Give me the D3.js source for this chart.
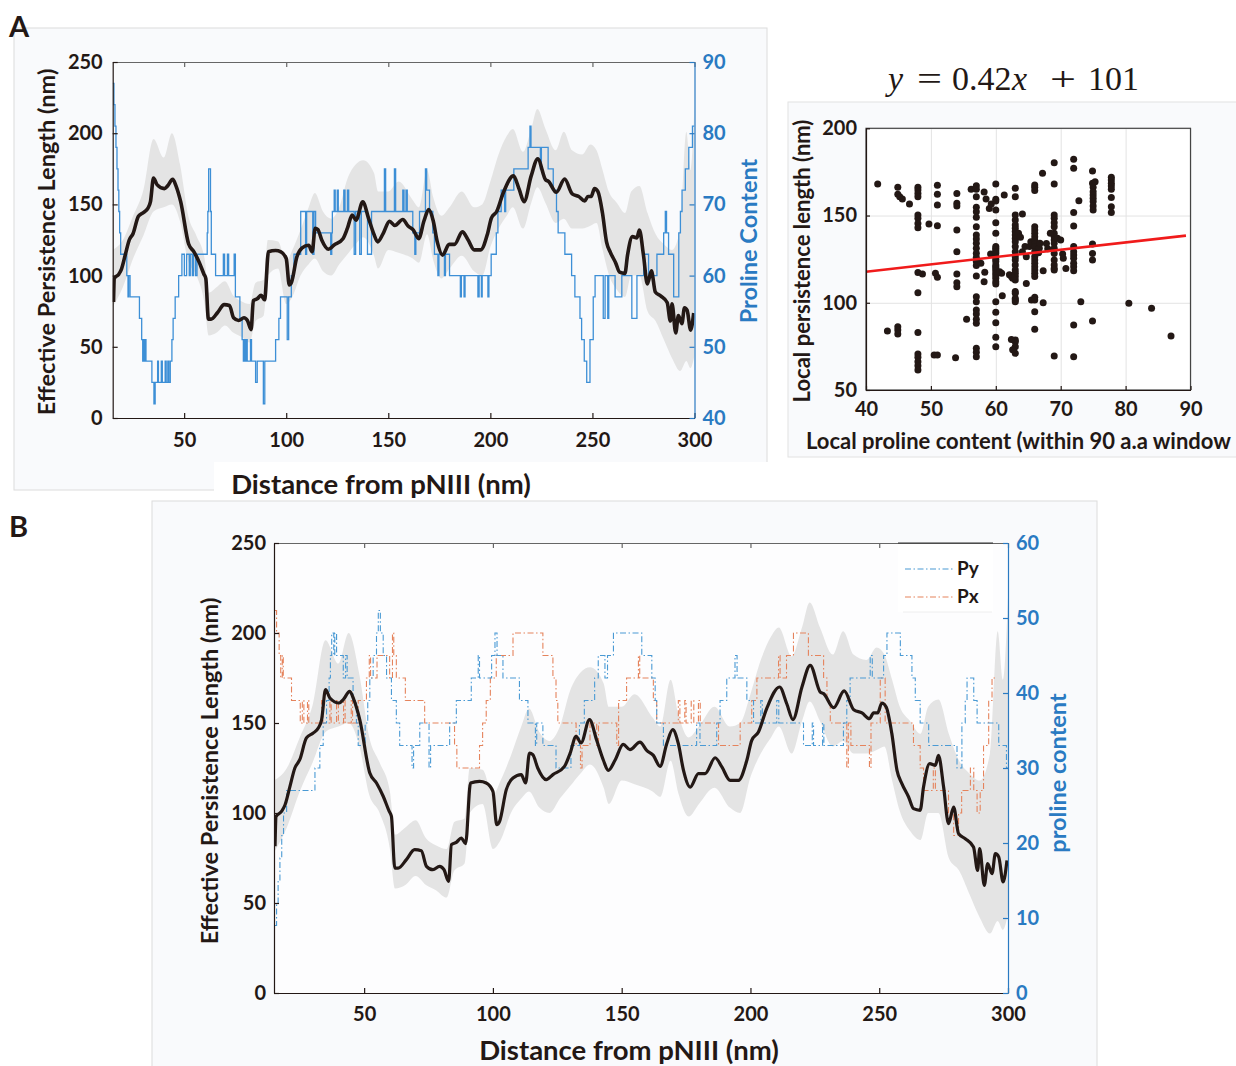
<!DOCTYPE html>
<html><head><meta charset="utf-8">
<script src="https://cdn.jsdelivr.net/npm/d3@7"></script>
<style>
body{margin:0;background:#fff;}
text{font-family:Lato,"Open Sans",sans-serif;font-weight:700;}
</style></head>
<body>
<script>
// ---------------- DATA ----------------
const distTicks = [50,100,150,200,250,300];
const persTicks = [0,50,100,150,200,250];
const prolineTicksA = [40,50,60,70,80,90];
const prolineTicksB = [0,10,20,30,40,50,60];
const scatterXTicks = [40,50,60,70,80,90];
const scatterYTicks = [50,100,150,200];
const fitSlope = 0.42, fitIntercept = 101;

// effective persistence length (black curve)
const persX = [15.4,15.8,18,19.3,21.2,23.1,25,27.6,30.2,32.2,33.5,35,36.7,40.3,41.9,44.4,46,48.3,52.2,54.8,57.4,59.7,60.6,61.9,63.2,66.4,69.6,72.2,74.2,76.7,79.3,81,82.8,83.9,85.8,87.7,89.4,91.3,94.8,97.4,100,101.5,102.6,105.2,107.8,111,112.7,114.2,115.5,117.4,120.7,123.3,127.8,130,132.3,134.2,137.5,140.3,142.9,144.8,147.4,150.6,153.2,157.1,159.7,162.3,164.9,167.5,169.8,172,174,176.6,179.8,182.4,186.3,188.9,192.1,195.3,198.6,200.5,203.1,206.3,211.3,214.1,216.5,220,223.2,227.1,228.4,232.3,236.4,240.1,243.3,246.2,247.8,249.4,251,252.7,254.9,256.9,258.8,261.4,263.3,265.9,267.2,269.6,271.8,273,275,276.9,278.9,280.8,283.4,286.6,288.2,289,290.8,292.1,293.8,295.1,296.4,298.1,299.6];
const persY = [81.5,98,101,104.6,114.8,125,129.6,141.7,144.4,147.2,151.9,168.5,163.9,161.1,163,167.6,163,151.9,122.2,116.7,109.3,101,98.1,69.4,69.4,74.1,79.6,79,70.4,68.5,70.4,68.5,62,82.4,83.7,86.1,83,116.7,117.6,116.7,112,93.5,95.4,113,119.4,121.3,116.7,133.3,132.4,125,118.5,121.3,125.9,133.3,142.6,138.9,151.9,140.4,129.3,123.7,129.3,138.1,135.2,139.4,134.8,132,125.9,138.5,146.3,138.5,123.7,114.4,121.9,121.9,130.7,125.6,118.1,118.1,129.3,140.4,145,158,170,160.7,151.9,170,182,167.2,166.3,158.5,167.8,157.4,155.6,152.4,155.6,155.6,161.1,158.9,144.1,123.7,116.3,108.9,102.4,101.5,114.4,127.4,126.5,132,114.4,94.1,103.3,88.5,85.7,81.1,68.1,80.2,59.8,71.9,66.3,77.4,75.6,61.7,73.7];

// uncertainty band
const bandX  = [15,20,25,30,35,40,44,48,52,56,60,62,66,70,74,78,82,85,89,91,96,100,103,107,111,114,118,122,126,130,134,137.7,143,145,150,155,162,165,169,172,176,180,186,192,196,200,204,208,211,216,220,223,227,232,236,240,245,249,252,255,258,262,266,269,273,277,281,285,289,293,296,298,300];
const bandLo = [78,92,112,128,145,148,150,138,110,100,80,58,60,65,60,57,53,68,72,100,105,80,85,100,108,112,103,100,108,115,122,127,114,105,118,116,112,109,129,111,98,105,114,103,100,120,133,142,148,133,151,162,151,137,140,133,133,135,137,118,101,90,85,100,100,75,68,55,42,33,40,35,44];
const bandHi = [118,125,142,160,196,183,200,178,142,128,112,88,92,96,86,82,80,95,97,125,124,110,118,132,148,158,145,140,148,168,178,181,172,159,159,166,153,148,174,155,142,148,159,148,150,166,185,198,203,187,203,217,203,188,201,188,185,192,188,174,159,151,144,159,163,144,129,122,118,133,201,174,220];

// panel A proline content (step, value from x onward)
const prolineA = [[15,87],[15.6,84],[16.1,81],[16.6,78],[17.1,75],[17.6,72],[18,69],[18.4,66],[18.9,63],[21.9,60],[22.5,57],[22.8,60],[23.5,57],[28.1,54],[29.2,51],[29.7,48],[30.1,51],[30.5,48],[30.9,51],[31.3,48],[34.2,45],[35.2,42],[35.8,45],[37,48],[37.4,45],[38.8,48],[39.3,45],[40.7,48],[41.2,45],[42,48],[42.5,45],[43.2,48],[44,51],[44.6,54],[45.6,57],[47.3,60],[48.9,63],[50.1,60],[51.2,63],[52.5,60],[53,63],[54,60],[54.6,63],[55.6,60],[56.3,63],[61.3,66],[61.6,69],[62,75],[62.9,69],[63.3,63],[65.4,60],[69.2,63],[69.8,60],[71.2,63],[71.8,60],[74.5,63],[75.1,57],[77.3,54],[78.4,51],[79,48],[79.4,51],[80,48],[80.4,51],[80.9,48],[82.5,51],[83,48],[85,45],[85.8,48],[88.8,42],[89.5,48],[94.8,51],[96.4,54],[97.2,57],[100.5,51],[101.2,57],[102.5,60],[103.8,63],[107.1,69],[109.5,63],[110,69],[113,63],[113.6,69],[114.4,66],[121.8,63],[122.3,66],[122.6,69],[123.5,72],[124,69],[125,72],[125.5,69],[128.2,72],[128.8,69],[130,72],[130.6,69],[133.3,63],[134,69],[136,63],[136.8,69],[139.8,63],[141.8,69],[148.1,75],[148.7,69],[153,75],[153.6,69],[157.1,72],[157.7,69],[158.7,72],[159.3,69],[162,66],[163,63],[163.5,66],[165.3,69],[168.2,75],[168.8,72],[170.2,69],[171.8,66],[172.6,63],[174.3,60],[174.8,63],[177.5,60],[178,63],[180,60],[185.3,57],[185.8,60],[187.1,57],[187.6,60],[193.9,57],[194.5,60],[195.6,57],[196,60],[198.8,57],[199.3,60],[200.4,63],[202.9,66],[203.7,69],[205.3,72],[207,69],[207.5,72],[211.5,75],[218.5,78],[219.4,81],[219.9,78],[224.5,75],[225,78],[228.3,75],[230.8,72],[232.4,69],[233.2,66],[236.5,63],[239.8,60],[241.4,57],[243.9,54],[244.7,51],[246,48],[247.2,45],[248.8,51],[250.4,57],[251.3,60],[255.3,54],[256.2,60],[257.5,54],[258,60],[261.1,57],[264.4,60],[269.3,54],[271.8,60],[275.1,63],[277.5,60],[281.6,63],[284.9,66],[285.7,69],[286.3,66],[287.3,63],[289.8,57],[292.3,66],[293.1,69],[293.9,72],[295.5,75],[297.2,78],[299,81],[300,81]];

// panel B Py / Px proline content (steps)
const prolinePy = [[15.4,9],[16,12],[16.6,15],[17.3,18],[18,21],[18.7,24],[19.9,27],[30.9,30],[32.8,33],[34.1,36],[35.4,39],[36.4,42],[36.9,45],[37.4,48],[38.2,45],[38.6,48],[39.3,45],[41.9,42],[42.8,45],[43.4,42],[45.7,39],[47,36],[47.7,33],[50.4,36],[51.4,39],[52.2,42],[53.5,45],[54.8,48],[55.5,51],[56.3,48],[57.4,45],[58.7,42],[60.6,39],[62.5,36],[63.8,33],[68.6,30],[69.2,33],[71.6,36],[75.2,30],[75.8,33],[83.2,36],[85.8,39],[91.6,42],[94.3,45],[94.8,42],[99.5,45],[100.8,48],[101.6,45],[103.9,42],[110.3,39],[113.6,36],[116.5,33],[117,36],[119.4,33],[124.5,30],[130.3,33],[133.6,36],[135.5,39],[139.5,42],[140.9,45],[143.5,42],[144.5,45],[146.8,48],[157.8,45],[161.7,42],[163,39],[163.6,36],[166.2,33],[179.1,36],[180.4,33],[186.9,36],[188.2,39],[190.8,42],[194,45],[194.8,42],[198.6,39],[201.2,36],[204,39],[204.6,36],[210.2,39],[211,36],[220.6,33],[224,36],[224.5,33],[228,36],[228.5,33],[236.1,36],[237.4,39],[238.7,42],[246.5,45],[247.3,42],[251.7,45],[253,48],[258.2,45],[262.7,42],[264,39],[265.9,36],[269.2,33],[280.2,30],[282.1,36],[283.4,39],[284.1,42],[286.7,39],[288,36],[296.4,33],[299.4,30],[300,30]];
const prolinePx = [[15.4,51],[16,48],[17,45],[17.6,42],[18.2,45],[18.6,42],[21.8,39],[25.2,36],[26,39],[26.6,36],[28,39],[28.5,36],[33.5,39],[34,36],[36.7,39],[37.2,36],[39.3,39],[40,36],[42,39],[42.6,36],[45,39],[45.5,36],[47.7,39],[50.9,42],[52,45],[52.5,42],[55,45],[59.9,42],[61,48],[61.5,45],[62.5,42],[66,39],[73.5,36],[85.1,33],[86,30],[94.8,33],[96,36],[97.4,39],[99,42],[101.3,45],[107.8,48],[119.4,45],[123.3,42],[124.5,39],[125.2,36],[132.3,33],[134,30],[134.6,33],[137.7,36],[140.3,33],[141,36],[148.1,33],[148.8,39],[151.9,42],[156.5,45],[157,42],[162.3,39],[163.6,36],[172,39],[172.6,36],[174.5,39],[175,36],[177,39],[178,36],[179.8,39],[180.5,36],[187.6,33],[196,36],[200.5,39],[202.5,42],[210.9,45],[211.5,42],[214,45],[216.7,48],[222.5,45],[228.4,42],[229.7,39],[231,36],[237.4,30],[238,36],[239,33],[246.2,30],[246.8,36],[250.4,42],[252.3,36],[263.3,33],[265.9,30],[267.2,27],[271,30],[271.8,27],[276.9,24],[278.9,21],[280.8,24],[282,27],[285.4,30],[286.7,27],[288,24],[289.2,27],[290.5,33],[292.5,39],[293.8,42],[295.5,42]];

// scatter: [local proline content, local persistence length]
const scatterPts = [[41.8,168.1],[43.3,83.8],[44.9,166.2],[44.9,162.2],[45.2,160.8],[45.6,159.5],[44.9,86.3],[44.9,84.4],[44.9,82.1],[46.7,156.6],
[48,166.2],[48,164.6],[48,162.7],[48,160.8],[48,150.3],[48,148.4],[48,145.5],[48,143],[48,117.3],[48.7,116.5],[48,105.8],[48,83],[48,70.6],[48,68.7],[48,66.2],[48,63.9],[48,61.5],[49.7,145.2],
[51,167.3],[51,162.2],[51,156],[51,144.2],[50.7,116.9],[51,114.6],[50.5,70],[51,70],
[54,162.7],[54,157],[54,155.5],[54,141.7],[54,129.3],[54,116.5],[54,111.5],[54,109.2],[53.8,68.5],[55.5,90.5],[56.2,165],
[57,167],[57,165],[57,160.8],[57,154.7],[57,152.2],[57,149],[57,143.6],[57,138.8],[57,136.6],[57,134.1],[57,131.2],[57,128.4],[57,126.1],[57,123.6],[57,121.3],[57,115.3],[57,103.5],[57,100.6],[57,95.9],[57,93.5],[57,90.5],[57,88.2],[57,74],[57,71.6],[57,69.1],
[57.7,122.6],[58.2,112.1],[58.2,163.5],[58.5,159.5],[59,154],[59.3,156.6],[58.3,117.5],[59.2,128],
[60,168.1],[60,159.3],[60,158.3],[60,153.2],[60,145.9],[60,139.8],[60,132.2],[60,131.2],[60,130.2],[60,129.3],[60,128.3],[60,126.4],[60,124.9],[60,123.6],[60,121.7],[60,120.7],[60,119.7],[60,118.4],[60,116.9],[60,115.5],[60,114],[60,112.1],[60,110.8],[60,100.6],[60,94.5],[60,88.6],[60,80.2],[60,74.8],
[60.6,117.8],[60.9,116.9],[61,104],[61.3,161.8],
[63,165.6],[63,160.8],[63,150.3],[63,147.4],[63,144.6],[63,142.7],[63,140.8],[63,138.9],[63,136.9],[63,135],[63,132.2],[63,129.3],[63,126.4],[63,124.5],[63,121.7],[63,118.8],[63,116.9],[63,115],[63,113],[63,106.4],[63,105.4],[63,102.5],[63,101.6],[63,100.6],[63,78.7],[63,77.7],[63,74.8],[63,71],[62.4,79],[62.6,73],
[62.1,116],[62.4,115],[62.6,114],[63.5,139.8],[63.8,137.5],[64.1,150.9],[64.1,129.3],[64.5,132.2],[64.7,126.4],[64.7,111.1],[65.2,132.2],[65.4,135],[65.5,134],[65.5,101.6],
[66,167.5],[66,166.2],[66,164.3],[66,143.6],[66,141.7],[66,139.8],[66,137.9],[66,136],[66,134],[66,132.2],[66,129.3],[66,126.4],[66,124.5],[66,122.6],[66,120.7],[66,118.8],[66,116.9],[66,115],[66,103.1],[66,101.6],[66,94.9],[66,84.8],
[66.6,128.7],[66.7,131.2],[66.8,134.1],[67.2,174.2],[67.3,118.4],[67.3,100],[67.8,134],[68,131],
[69,180.3],[69,168.1],[69,150.3],[69,148.4],[69,145.9],[69,143.6],[69,139.8],[69,137.9],[69,136],[69,134.1],[69,131.2],[69,128.3],[69,124.5],[69,121.7],[69,119.7],[69,118.8],[69,69.5],
[68.4,139.8],[69.5,137],[70,136],[70.3,128],[70.4,125.5],[70.8,119.7],
[72,182.2],[72,177.1],[72,151.8],[72,144],[72,132.2],[72,129.3],[72,127.4],[72,125.5],[72,122.6],[72,120.7],[72,118.4],[72,87.3],[72,69.1],[72.8,158.5],[73.1,100.6],
[74.9,175.5],[74.9,168.5],[75,166.2],[75,163.7],[75,161.8],[75,159.9],[75,158],[75,155.5],[75,153.2],[74.9,133.7],[74.9,128.3],[74.9,124.5],[74.9,89.6],[75.3,169.4],
[77.8,171.9],[77.8,170.4],[77.8,168.5],[77.8,166.9],[77.8,165],[77.8,160.4],[77.8,155.1],[77.8,151.7],
[80.5,99.7],[84,96.8],[87,81]];

// ---------------- DRAW ----------------
const DARK = "#231815", BLUE = "#2a7ac2", LINEBLUE = "#3d8fd6", PYC = "#4a9ad4", PXC = "#e5835c", BAND = "#e4e4e4", PANEL = "#f9fafc";
const TICKFS = 20;
const persData = persX.map((x,i)=>[x,persY[i]]);
const bandData = bandX.map((x,i)=>[x,bandLo[i],bandHi[i]]);

const svg = d3.select("body").append("svg").attr("width",1236).attr("height",1066);

// panel backgrounds
svg.append("rect").attr("x",14).attr("y",28).attr("width",753).attr("height",462).attr("fill",PANEL).attr("stroke","#dcdcdc");
svg.append("rect").attr("x",214).attr("y",462).attr("width",591).attr("height",38).attr("fill","#fff");
svg.append("rect").attr("x",788).attr("y",102).attr("width",460).attr("height",355).attr("fill",PANEL).attr("stroke","#e2e2e2");
svg.append("rect").attr("x",152).attr("y",501).attr("width",945).attr("height",580).attr("fill",PANEL).attr("stroke","#dcdcdc");

svg.append("text").attr("x",9).attr("y",37).attr("font-size",29).attr("fill",DARK).text("A");
svg.append("text").attr("x",9).attr("y",537).attr("font-size",29).attr("fill",DARK).text("B");

function styleAxis(g, color, size){
  g.select(".domain").attr("stroke",color).attr("stroke-width",1.2);
  g.selectAll(".tick line").attr("stroke",color).attr("stroke-width",1.2);
  g.selectAll(".tick text").attr("fill",color).attr("font-size",size).attr("font-family","Lato, 'Open Sans', sans-serif").attr("font-weight",700);
}
function addClip(id,x0,y0,x1,y1){
  svg.append("clipPath").attr("id",id).append("rect").attr("x",x0).attr("y",y0).attr("width",x1-x0).attr("height",y1-y0);
}

// ===== Panel A main =====
const xA = d3.scaleLinear([15,300],[112.7,694.5]);
const yA = d3.scaleLinear([0,250],[418,62]);
const yA2 = d3.scaleLinear([40,90],[418,62]);
addClip("clipA",112.7,62,694.5,418);
const gA = svg.append("g").attr("clip-path","url(#clipA)");
gA.append("path").datum(bandData).attr("fill",BAND)
  .attr("d",d3.area().x(d=>xA(d[0])).y0(d=>yA(d[1])).y1(d=>yA(d[2])).curve(d3.curveMonotoneX));
gA.append("path").datum(prolineA).attr("fill","none").attr("stroke",LINEBLUE).attr("stroke-width",1.3)
  .attr("d",d3.line().x(d=>xA(d[0])).y(d=>yA2(d[1])).curve(d3.curveStepAfter));
gA.append("path").datum(persData).attr("fill","none").attr("stroke",DARK).attr("stroke-width",3.6).attr("stroke-linejoin","round")
  .attr("d",d3.line().x(d=>xA(d[0])).y(d=>yA(d[1])).curve(d3.curveMonotoneX));

styleAxis(svg.append("g").attr("transform","translate(0,418)").call(d3.axisBottom(xA).tickValues(distTicks).tickSizeInner(-5).tickSizeOuter(0).tickPadding(15)),DARK,TICKFS);
styleAxis(svg.append("g").attr("transform","translate(0,62)").call(d3.axisTop(xA).tickValues(distTicks).tickSizeInner(-5).tickSizeOuter(0).tickFormat("")),"#666",TICKFS);
styleAxis(svg.append("g").attr("transform","translate(112.7,0)").call(d3.axisLeft(yA).tickValues(persTicks).tickSizeInner(-5).tickSizeOuter(0).tickPadding(10)),DARK,TICKFS);
styleAxis(svg.append("g").attr("transform","translate(694.5,0)").call(d3.axisRight(yA2).tickValues(prolineTicksA).tickSizeInner(-5).tickSizeOuter(0).tickPadding(8)),BLUE,TICKFS);
svg.append("text").attr("transform","translate(55,242) rotate(-90)").attr("text-anchor","middle").attr("font-size",23.5).attr("fill",DARK).text("Effective Persistence Length (nm)");
svg.append("text").attr("transform","translate(757,241) rotate(-90)").attr("text-anchor","middle").attr("font-size",23.5).attr("fill",BLUE).text("Proline Content");
svg.append("text").attr("x",381).attr("y",494).attr("text-anchor","middle").attr("font-size",27.5).attr("fill",DARK).text("Distance from pNIII (nm)");

// ===== Scatter =====
const xS = d3.scaleLinear([40,90],[866,1190.5]);
const yS = d3.scaleLinear([50,200],[390,128.3]);
svg.append("rect").attr("x",866).attr("y",128.3).attr("width",324.5).attr("height",261.7).attr("fill","#fff");
const gridX = svg.append("g").attr("transform","translate(0,390)").call(d3.axisBottom(xS).tickValues(scatterXTicks).tickSize(-261.7).tickFormat(""));
gridX.select(".domain").remove(); gridX.selectAll("line").attr("stroke","#e3e3e3");
const gridY = svg.append("g").attr("transform","translate(866,0)").call(d3.axisLeft(yS).tickValues(scatterYTicks).tickSize(-324.5).tickFormat(""));
gridY.select(".domain").remove(); gridY.selectAll("line").attr("stroke","#e3e3e3");
svg.append("g").selectAll("circle").data(scatterPts).join("circle")
  .attr("cx",d=>xS(d[0])).attr("cy",d=>yS(d[1])).attr("r",3.5).attr("fill",DARK);
svg.append("line").attr("x1",xS(40)).attr("y1",yS(fitIntercept+fitSlope*40)).attr("x2",xS(89.3)).attr("y2",yS(fitIntercept+fitSlope*89.3))
  .attr("stroke","#f01b1b").attr("stroke-width",2.6);
svg.append("rect").attr("x",866).attr("y",128.3).attr("width",324.5).attr("height",261.7).attr("fill","none").attr("stroke","#444").attr("stroke-width",1.2);
styleAxis(svg.append("g").attr("transform","translate(0,390)").call(d3.axisBottom(xS).tickValues(scatterXTicks).tickSizeInner(-4).tickSizeOuter(0).tickPadding(12)),DARK,TICKFS);
styleAxis(svg.append("g").attr("transform","translate(866,0)").call(d3.axisLeft(yS).tickValues(scatterYTicks).tickSizeInner(-4).tickSizeOuter(0).tickPadding(9)),DARK,TICKFS);
svg.append("text").attr("transform","translate(810,261) rotate(-90)").attr("text-anchor","middle").attr("font-size",22).attr("fill",DARK).text("Local persistence length (nm)");
svg.append("text").attr("x",806).attr("y",449).attr("font-size",22).attr("fill",DARK).text("Local proline content (within 90 a.a window");
const title = svg.append("text").attr("y",90).attr("font-size",34).attr("fill",DARK)
  .style("font-family","'Liberation Serif','DejaVu Serif',serif").style("font-weight","400");
title.append("tspan").attr("x",888).style("font-style","italic").text("y");
title.append("tspan").attr("x",917).attr("textLength",25).attr("lengthAdjust","spacingAndGlyphs").text("=");
title.append("tspan").attr("x",952).text("0.42");
title.append("tspan").attr("x",1012).style("font-style","italic").text("x");
title.append("tspan").attr("x",1050).attr("textLength",26).attr("lengthAdjust","spacingAndGlyphs").text("+");
title.append("tspan").attr("x",1088).text("101");

// ===== Panel B =====
const xB = d3.scaleLinear([15,300],[274,1008]);
const yB = d3.scaleLinear([0,250],[993,543]);
const yB2 = d3.scaleLinear([0,60],[993,543]);
addClip("clipB",274,543,1008,993);
const gB = svg.append("g").attr("clip-path","url(#clipB)");
gB.append("rect").attr("x",274).attr("y",543).attr("width",734).attr("height",450).attr("fill","#fdfdfe");
gB.append("path").datum(bandData).attr("fill",BAND)
  .attr("d",d3.area().x(d=>xB(d[0])).y0(d=>yB(d[1])).y1(d=>yB(d[2])).curve(d3.curveMonotoneX));
gB.append("path").datum(prolinePx).attr("fill","none").attr("stroke",PXC).attr("stroke-width",1.1).attr("stroke-dasharray","6,2.5,1.5,2.5")
  .attr("d",d3.line().x(d=>xB(d[0])).y(d=>yB2(d[1])).curve(d3.curveStepAfter));
gB.append("path").datum(prolinePy).attr("fill","none").attr("stroke",PYC).attr("stroke-width",1.1).attr("stroke-dasharray","6,2.5,1.5,2.5")
  .attr("d",d3.line().x(d=>xB(d[0])).y(d=>yB2(d[1])).curve(d3.curveStepAfter));
gB.append("path").datum(persData).attr("fill","none").attr("stroke",DARK).attr("stroke-width",3.2).attr("stroke-linejoin","round")
  .attr("d",d3.line().x(d=>xB(d[0])).y(d=>yB(d[1])).curve(d3.curveMonotoneX));

styleAxis(svg.append("g").attr("transform","translate(0,993)").call(d3.axisBottom(xB).tickValues(distTicks).tickSizeInner(-5).tickSizeOuter(0).tickPadding(14)),DARK,TICKFS);
styleAxis(svg.append("g").attr("transform","translate(0,543)").call(d3.axisTop(xB).tickValues(distTicks).tickSizeInner(-5).tickSizeOuter(0).tickFormat("")),"#666",TICKFS);
styleAxis(svg.append("g").attr("transform","translate(274,0)").call(d3.axisLeft(yB).tickValues(persTicks).tickSizeInner(-5).tickSizeOuter(0).tickPadding(8)),DARK,TICKFS);
styleAxis(svg.append("g").attr("transform","translate(1008,0)").call(d3.axisRight(yB2).tickValues(prolineTicksB).tickSizeInner(-5).tickSizeOuter(0).tickPadding(8)),BLUE,TICKFS);

// legend
const lg = svg.append("g");
lg.append("rect").attr("x",898).attr("y",544).attr("width",95).attr("height",68).attr("fill","#fff");
lg.append("line").attr("x1",903).attr("x2",992).attr("y1",612).attr("y2",612).attr("stroke","#eeeeee");
lg.append("line").attr("x1",898).attr("x2",993).attr("y1",543).attr("y2",543).attr("stroke","#333").attr("stroke-width",1.2);
const legItems = [["Py",PYC,569],["Px",PXC,597]];
legItems.forEach(([name,col,yy])=>{
  lg.append("line").attr("x1",905).attr("x2",953).attr("y1",yy).attr("y2",yy).attr("stroke",col).attr("stroke-width",1.1).attr("stroke-dasharray","6,2.5,1.5,2.5");
  lg.append("text").attr("x",957).attr("y",yy+6).attr("font-size",19).attr("fill",DARK).text(name);
});

svg.append("text").attr("transform","translate(218,771) rotate(-90)").attr("text-anchor","middle").attr("font-size",23.5).attr("fill",DARK).text("Effective Persistence Length (nm)");
svg.append("text").attr("transform","translate(1066,773) rotate(-90)").attr("text-anchor","middle").attr("font-size",23.5).attr("fill",BLUE).text("proline content");
svg.append("text").attr("x",629).attr("y",1060).attr("text-anchor","middle").attr("font-size",27.5).attr("fill",DARK).text("Distance from pNIII (nm)");
</script>
</body></html>
